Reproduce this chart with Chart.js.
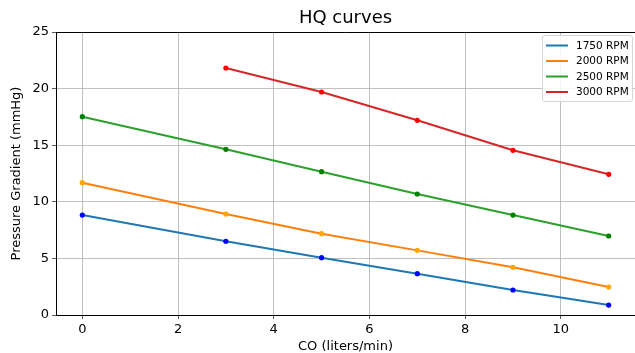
<!DOCTYPE html>
<html>
<head>
<meta charset="utf-8">
<script src="https://cdn.jsdelivr.net/npm/chart.js@4"></script>
<style>
  html, body { margin: 0; padding: 0; background: #fff; }
  #wrap { width: 635px; height: 353px; }
</style>
</head>
<body>
<div id="wrap"><canvas id="hq"></canvas></div>
<script>
// flow values (CO, liters/min)
var coFull = [0, 3, 5, 7, 9, 11];
var coHigh = [3, 5, 7, 9, 11];

// pressure gradient (mmHg) per pump speed
var rpmLabels = ["1750 RPM", "2000 RPM", "2500 RPM", "3000 RPM"];
var rpm1750 = [8.83, 6.51, 5.06, 3.65, 2.21, 0.88];
var rpm2000 = [11.69, 8.92, 7.18, 5.71, 4.21, 2.47];
var rpm2500 = [17.52, 14.64, 12.66, 10.69, 8.83, 6.98];
var rpm3000 = [21.82, 19.70, 17.20, 14.55, 12.43];

var xTicks = [0, 2, 4, 6, 8, 10];
var yTicks = [0, 5, 10, 15, 20, 25];

var lineColors = ['#1f77b4', '#ff7f0e', '#2ca02c', '#d62728'];
var dotColors = ['#0000ff', '#ffa500', '#008000', '#ff0000'];

var FONT = "'DejaVu Sans', sans-serif";

function pairs(xs, ys) {
    return xs.map(function (x, i) { return { x: x, y: ys[i] }; });
}

function makeSet(i, xs, ys) {
    return {
        label: rpmLabels[i],
        data: pairs(xs, ys),
        borderColor: lineColors[i],
        backgroundColor: lineColors[i],
        borderWidth: 2,
        pointRadius: 2.6,
        pointBorderWidth: 0,
        pointBackgroundColor: dotColors[i],
        pointBorderColor: dotColors[i],
        tension: 0
    };
}

// title, top spine and the boxed legend
var extras = {
    id: 'extras',
    afterDraw: function (chart) {
        var ctx = chart.ctx;
        var a = chart.chartArea;
        ctx.save();

        ctx.strokeStyle = '#000';
        ctx.lineWidth = 1;
        ctx.beginPath();
        ctx.moveTo(a.left, a.top + 0.5);
        ctx.lineTo(a.right, a.top + 0.5);
        ctx.stroke();

        ctx.fillStyle = '#000';
        ctx.font = '18px ' + FONT;
        ctx.textAlign = 'center';
        ctx.textBaseline = 'middle';
        ctx.fillText('HQ curves', (a.left + a.right) / 2, 18);

        var bx = 542.5, by = 35.5, bw = 90, bh = 66;
        ctx.fillStyle = 'rgba(255,255,255,0.85)';
        ctx.strokeStyle = '#d6d6d6';
        ctx.beginPath();
        ctx.roundRect(bx, by, bw, bh, 2.5);
        ctx.fill();
        ctx.stroke();

        ctx.font = '10.5px ' + FONT;
        ctx.textAlign = 'left';
        chart.data.datasets.forEach(function (ds, i) {
            var ry = 45.5 + i * 15.5;
            ctx.strokeStyle = ds.borderColor;
            ctx.lineWidth = 2;
            ctx.beginPath();
            ctx.moveTo(546, ry);
            ctx.lineTo(568, ry);
            ctx.stroke();
            ctx.fillStyle = '#000';
            ctx.fillText(ds.label, 576, ry + 0.5);
        });
        ctx.restore();
    }
};

new Chart(document.getElementById('hq'), {
    type: 'line',
    data: {
        datasets: [
            makeSet(0, coFull, rpm1750),
            makeSet(1, coFull, rpm2000),
            makeSet(2, coFull, rpm2500),
            makeSet(3, coHigh, rpm3000)
        ]
    },
    options: {
        responsive: true,
        maintainAspectRatio: false,
        animation: false,
        layout: { autoPadding: false, padding: { top: 32, right: 0, left: 0, bottom: 0 } },
        plugins: {
            legend: { display: false },
            title: { display: false },
            tooltip: { enabled: false }
        },
        scales: {
            x: {
                type: 'linear',
                min: -0.55,
                max: 11.55,
                afterBuildTicks: function (axis) {
                    axis.ticks = xTicks.map(function (v) { return { value: v }; });
                },
                afterFit: function (axis) {
                    axis.height = 38;
                    axis.paddingLeft = 0;
                    axis.paddingRight = 0;
                },
                grid: { color: '#b0b0b0', lineWidth: 0.8, tickLength: 4, tickColor: '#333' },
                border: { color: '#000', width: 1 },
                ticks: { color: '#000', font: { family: FONT, size: 13 }, padding: 3, maxRotation: 0 },
                title: { display: true, text: 'CO (liters/min)', color: '#000', font: { family: FONT, size: 13, lineHeight: 1 }, padding: { top: 0, bottom: 0 } }
            },
            y: {
                type: 'linear',
                min: 0,
                max: 25,
                afterBuildTicks: function (axis) {
                    axis.ticks = yTicks.map(function (v) { return { value: v }; });
                },
                afterFit: function (axis) {
                    axis.width = 56;
                    axis.paddingTop = 0;
                    axis.paddingBottom = 0;
                },
                grid: { color: '#b0b0b0', lineWidth: 0.8, tickLength: 4, tickColor: '#333' },
                border: { color: '#000', width: 1 },
                ticks: { color: '#000', font: { family: FONT, size: 13 }, padding: 3 },
                title: { display: true, text: 'Pressure Gradient (mmHg)', color: '#000', font: { family: FONT, size: 13 }, padding: { top: 9, bottom: 0 } }
            }
        }
    },
    plugins: [extras]
});
</script>
</body>
</html>
